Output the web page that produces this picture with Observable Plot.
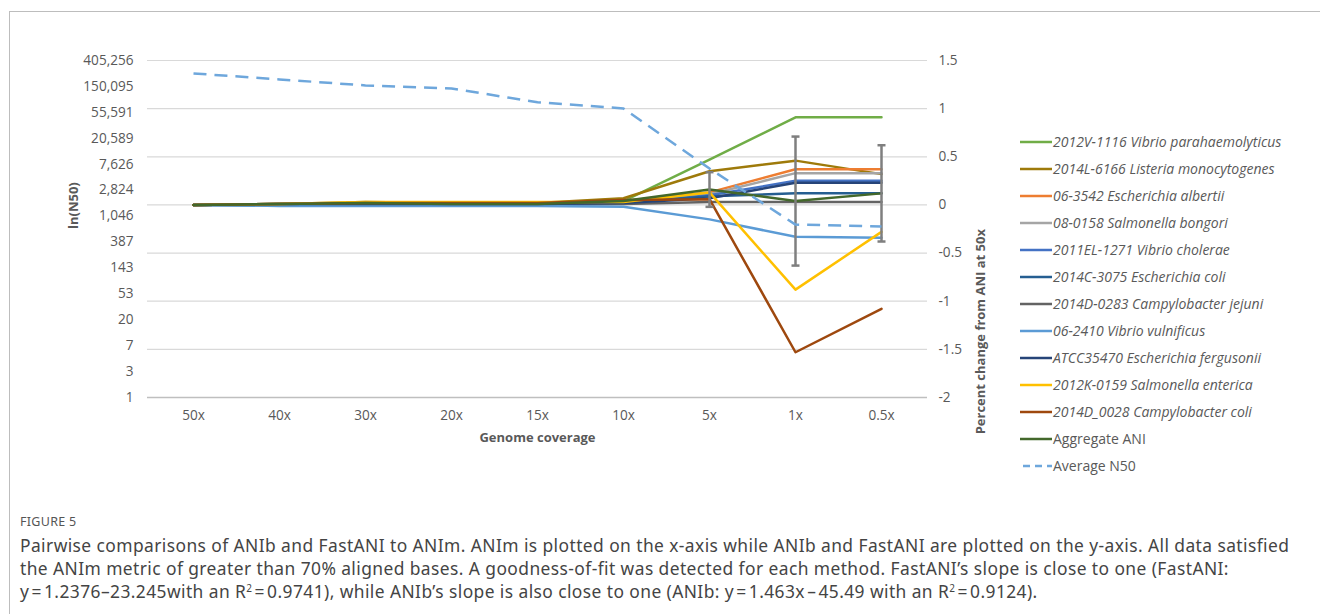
<!DOCTYPE html>
<html>
<head>
<meta charset="utf-8">
<script src="https://cdn.jsdelivr.net/npm/d3@7"></script>
<script src="https://cdn.jsdelivr.net/npm/@observablehq/plot@0.6"></script>
<style>
  html, body { margin: 0; padding: 0; background: #fff; }
  body { width: 1320px; height: 614px; position: relative; overflow: hidden; font-family: "Open Sans", sans-serif; }
  #frame { position: absolute; left: 9px; top: 11px; width: 1330px; height: 640px; border-left: 1px solid #bdbdbd; border-top: 1px solid #bdbdbd; }
  #chart { position: absolute; left: 0; top: 0; }
  #legend { position: absolute; left: 1020px; top: 128px; font-size: 14px; color: #595959; }
  .row { height: 27px; display: flex; align-items: center; white-space: nowrap; }
  .row svg { margin-right: 1px; }
  .it { font-style: italic; }
  #fig { position: absolute; left: 20px; top: 513px; font-family: "Noto Sans", sans-serif; font-size: 12.5px; color: #555; letter-spacing: 0.3px; }
  #cap { position: absolute; left: 20px; top: 534px; font-family: "Noto Sans", sans-serif; font-size: 17.4px; letter-spacing: 0.42px; line-height: 22.8px; color: #444; white-space: nowrap; }
  #cap sup { font-size: 10px; line-height: 0; vertical-align: 6px; }
</style>
</head>
<body>
<div id="frame"></div>
<div id="chart"></div>
<div id="legend"></div>
<div id="fig">FIGURE 5</div>
<div id="cap">Pairwise comparisons of ANIb and FastANI to ANIm. ANIm is plotted on the x-axis while ANIb and FastANI are plotted on the y-axis. All data satisfied<br>the ANIm metric of greater than 70% aligned bases. A goodness-of-fit was detected for each method. FastANI’s slope is close to one (FastANI:<br>y&#8202;=&#8202;1.2376&#8211;23.245with an R<sup>2</sup>&#8202;=&#8202;0.9741), while ANIb’s slope is also close to one (ANIb: y&#8202;=&#8202;1.463x&#8202;&#8211;&#8202;45.49 with an R<sup>2</sup>&#8202;=&#8202;0.9124).</div>
<script>
// ---- data ----
const categories = ["50x", "40x", "30x", "20x", "15x", "10x", "5x", "1x", "0.5x"];

const seriesNames = [
  "2012V-1116 Vibrio parahaemolyticus",
  "2014L-6166 Listeria monocytogenes",
  "06-3542 Escherichia albertii",
  "08-0158 Salmonella bongori",
  "2011EL-1271 Vibrio cholerae",
  "2014C-3075 Escherichia coli",
  "2014D-0283 Campylobacter jejuni",
  "06-2410 Vibrio vulnificus",
  "ATCC35470 Escherichia fergusonii",
  "2012K-0159 Salmonella enterica",
  "2014D_0028 Campylobacter coli",
  "Aggregate ANI"
];
const seriesColors = [
  "#70AD47", "#9E7A0A", "#ED7D31", "#A5A5A5", "#4472C4", "#255E91",
  "#636363", "#5B9BD5", "#264478", "#FFC000", "#9E480E", "#43682B"
];

// percent change from ANI at 50x (right axis)
const vParahaemolyticus = [0, 0.01, 0.02, 0.01, 0.01, 0.04, 0.47, 0.91, 0.91];
const lMonocytogenes    = [0, 0.01, 0.03, 0.02, 0.02, 0.07, 0.35, 0.46, 0.32];
const eAlbertii         = [0, 0.01, 0.02, 0.02, 0.02, 0.04, 0.13, 0.37, 0.37];
const sBongori          = [0, 0.01, 0.02, 0.01, 0.01, 0.03, 0.11, 0.33, 0.33];
const vCholerae         = [0, 0.01, 0.01, 0.01, 0.01, 0.02, 0.10, 0.25, 0.25];
const eColi             = [0, 0.00, 0.01, 0.00, 0.00, 0.02, 0.09, 0.12, 0.12];
const cJejuni           = [0, 0.00, 0.01, 0.00, 0.00, 0.01, 0.03, 0.03, 0.03];
const vVulnificus       = [0, -0.01, -0.01, -0.01, -0.01, -0.02, -0.15, -0.33, -0.34];
const eFergusonii       = [0, 0.01, 0.01, 0.01, 0.01, 0.02, 0.07, 0.23, 0.23];
const sEnterica         = [0, 0.01, 0.03, 0.03, 0.03, 0.03, 0.13, -0.88, -0.28];
const cColi             = [0, 0.01, 0.02, 0.02, 0.02, 0.05, 0.06, -1.53, -1.08];
const aggregateANI      = [0, 0.01, 0.02, 0.01, 0.01, 0.04, 0.16, 0.04, 0.12];
const aggregateError    = [0, 0, 0, 0, 0, 0, 0.18, 0.67, 0.50];

// Average N50, as ln(N50) (left axis)
const averageN50ln = [12.5, 12.27, 12.04, 11.92, 11.39, 11.15, 8.83, 6.67, 6.6];

// axis ticks
const leftTickLabels = ["1", "3", "7", "20", "53", "143", "387", "1,046", "2,824", "7,626", "20,589", "55,591", "150,095", "405,256"];
const rightTicks = [-2, -1.5, -1, -0.5, 0, 0.5, 1, 1.5];

// ---- build tables ----
const seriesValues = [vParahaemolyticus, lMonocytogenes, eAlbertii, sBongori, vCholerae, eColi,
  cJejuni, vVulnificus, eFergusonii, sEnterica, cColi, aggregateANI];
const rows = seriesNames.flatMap((s, k) => categories.map((c, i) => ({series: s, x: c, y: seriesValues[k][i]})));

// map left axis (ln N50 0..13) onto right axis range (-2..1.5)
const Y0 = -2, Y1 = 1.5, L1 = leftTickLabels.length - 1;
const lnToY = (v) => Y0 + v * (Y1 - Y0) / L1;
const leftTickPos = leftTickLabels.map((_, k) => lnToY(k));

const n50rows = categories.map((c, i) => ({x: c, y: lnToY(averageN50ln[i])}));
const errRows = categories.map((c, i) => ({x: c, lo: aggregateANI[i] - aggregateError[i], hi: aggregateANI[i] + aggregateError[i], e: aggregateError[i]}))
  .filter(d => d.e > 0);

const capSymbol = {
  draw(context, size) {
    const r = Math.sqrt(size / Math.PI);
    context.moveTo(-r, 0);
    context.lineTo(r, 0);
  }
};

const chart = Plot.plot({
  width: 1000,
  height: 470,
  marginLeft: 147,
  marginRight: 73,
  marginTop: 60,
  marginBottom: 73,
  style: {fontFamily: "'Open Sans', sans-serif", fontSize: "13.6px", color: "#595959", background: "transparent"},
  x: {type: "point", domain: categories, padding: 0.5},
  y: {domain: [Y0, Y1]},
  color: {domain: seriesNames, range: seriesColors},
  marks: [
    Plot.ruleY(rightTicks.filter(d => d > Y0), {stroke: "#d9d9d9", strokeWidth: 1.2}),
    Plot.ruleY([Y0], {stroke: "#bfbfbf", strokeWidth: 1.5}),
    Plot.axisY(leftTickPos, {anchor: "left", tickSize: 0, tickPadding: 14, label: null,
      tickFormat: d => leftTickLabels[Math.round((d - Y0) * L1 / (Y1 - Y0))]}),
    Plot.axisY(rightTicks, {anchor: "right", tickSize: 0, tickPadding: 11, label: null, tickFormat: d => String(d)}),
    Plot.axisX({anchor: "bottom", tickSize: 0, tickPadding: 13, label: null}),
    Plot.text(["ln(N50)"], {frameAnchor: "left", dx: -74, rotate: -90, fontWeight: "bold", fontSize: 13, fill: "#595959"}),
    Plot.text(["Percent change from ANI at 50x"], {frameAnchor: "right", dx: 53, rotate: -90, fontWeight: "bold", fontSize: 13, fill: "#595959"}),
    Plot.text(["Genome coverage"], {frameAnchor: "bottom", dy: 44, fontWeight: "bold", fontSize: 13, fill: "#595959"}),
    Plot.line(rows, {x: "x", y: "y", z: "series", stroke: "series", strokeWidth: 2.5}),
    Plot.ruleX(errRows, {x: "x", y1: "lo", y2: "hi", stroke: "#7f7f7f", strokeWidth: 2.5}),
    Plot.dot(errRows, {x: "x", y: "lo", symbol: capSymbol, r: 4, stroke: "#7f7f7f", strokeWidth: 2.5}),
    Plot.dot(errRows, {x: "x", y: "hi", symbol: capSymbol, r: 4, stroke: "#7f7f7f", strokeWidth: 2.5}),
    Plot.line(n50rows, {x: "x", y: "y", stroke: "#6ea7dc", strokeWidth: 2.5, strokeDasharray: "13,8", strokeLinecap: "butt"})
  ]
});
document.getElementById("chart").appendChild(chart);

// ---- legend ----
const legend = document.getElementById("legend");
const legendItems = seriesNames.map((s, k) => ({name: s, color: seriesColors[k], dash: false, italic: k < seriesNames.length - 1}))
  .concat([{name: "Average N50", color: "#6ea7dc", dash: true, italic: false}]);
legendItems.forEach(it => {
  const row = document.createElement("div");
  row.className = "row";
  const dash = it.dash ? `stroke-dasharray="7,5" stroke-dashoffset="-3"` : "";
  row.innerHTML = `<svg width="32" height="6"><line x1="0" x2="32" y1="3" y2="3" stroke="${it.color}" stroke-width="2.5" ${dash}/></svg><span class="${it.italic ? "it" : ""}">${it.name}</span>`;
  legend.appendChild(row);
});
</script>
</body>
</html>
